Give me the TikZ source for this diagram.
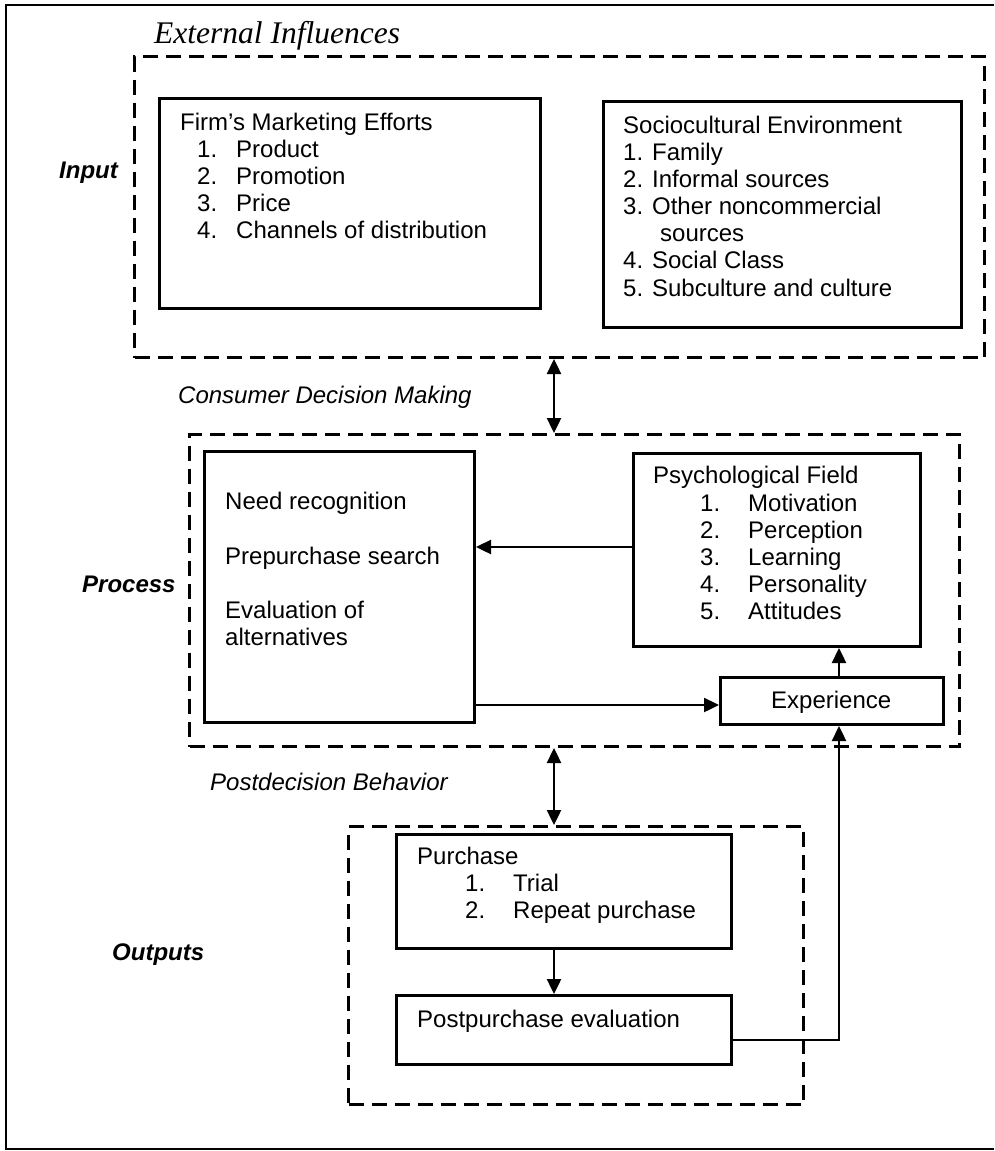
\documentclass[tikz,border=0pt]{standalone}
\usepackage{fontspec}
\setmainfont{Liberation Sans}
\newfontfamily\titlefont{Liberation Serif}
\usetikzlibrary{arrows.meta}
\tikzset{
  x=1pt, y=-1pt,
  solidbox/.style={draw, line width=3pt, inner sep=0pt, anchor=north west},
  dashbox/.style={draw, line width=3pt, inner sep=0pt, anchor=north west, dash pattern=on 15pt off 8pt},
  txt/.style={anchor=base west, inner sep=0pt, font=\fontsize{24}{27}\selectfont},
  itlabel/.style={txt, font=\fontsize{24}{27}\selectfont\itshape},
  bilabel/.style={txt, font=\fontsize{24}{27}\selectfont\bfseries\itshape},
  conn/.style={line width=2.4pt, -{Triangle[length=15pt,width=14pt]}},
  bconn/.style={line width=2.4pt, {Triangle[length=15pt,width=14pt]}-{Triangle[length=15pt,width=14pt]}},
}
\begin{document}
\begin{tikzpicture}
\useasboundingbox (0,0) rectangle (994,1151);
% outer frame (right side cut off)
\draw[line width=2.6pt] (994,5) -- (6,5) -- (6,1149) -- (994,1149);

% dashed group boxes
\node[dashbox, minimum width=850pt, minimum height=301pt] (inp) at (133,55) {};
\node[dashbox, minimum width=770pt, minimum height=312pt] (proc) at (188,433) {};
\node[dashbox, minimum width=455pt, minimum height=278pt] (outp) at (347,825) {};

% solid boxes
\node[solidbox, minimum width=381pt, minimum height=210pt] (firm) at (158,97) {};
\node[solidbox, minimum width=358pt, minimum height=226pt] (socio) at (602,100) {};
\node[solidbox, minimum width=270pt, minimum height=271pt] (dec) at (203,450) {};
\node[solidbox, minimum width=287pt, minimum height=193pt] (psy) at (632,452) {};
\node[solidbox, minimum width=223pt, minimum height=47pt] (exp) at (719,676) {};
\node[solidbox, minimum width=335pt, minimum height=114pt] (pur) at (395,833) {};
\node[solidbox, minimum width=335pt, minimum height=69pt] (post) at (395,994) {};

% labels
\node[anchor=base west, inner sep=0pt, font=\titlefont\fontsize{31.5}{34}\selectfont\itshape] (ext) at (154,43) {External Influences};
\node[bilabel] (linput) at (59,178) {Input};
\node[bilabel] (lprocess) at (82,592) {Process};
\node[bilabel] (loutputs) at (112,960) {Outputs};
\node[itlabel] (lcdm) at (178,403) {Consumer Decision Making};
\node[itlabel] (lpdb) at (210,790) {Postdecision Behavior};

% firm text
\node[txt] (firmT) at (180,130) {Firm’s Marketing Efforts};
\foreach \n/\t [count=\i] in {1./Product,2./Promotion,3./Price,4./Channels of distribution}{
  \node[txt] (firmN\i) at (197,130+27*\i) {\n};
  \node[txt] (firmI\i) at (236,130+27*\i) {\t};
}

% socio text
\node[txt] (socT) at (623,133) {Sociocultural Environment};
\node[txt] (soc1) at (623,160) {1. Family};
\node[txt] (soc2) at (623,187) {2. Informal sources};
\node[txt] (soc3) at (623,214) {3. Other noncommercial};
\node[txt] (soc3b) at (660,241) {sources};
\node[txt] (soc4) at (623,268) {4. Social Class};
\node[txt] (soc5) at (623,296) {5. Subculture and culture};

% decision text
\node[txt] (d1) at (225,509) {Need recognition};
\node[txt] (d2) at (225,564) {Prepurchase search};
\node[txt] (d3) at (225,618) {Evaluation of};
\node[txt] (d4) at (225,645) {alternatives};

% psych text
\node[txt] (psyT) at (653,483) {Psychological Field};
\foreach \n/\t [count=\i] in {1./Motivation,2./Perception,3./Learning,4./Personality,5./Attitudes}{
  \node[txt] (psyN\i) at (700,484+27*\i) {\n};
  \node[txt] (psyI\i) at (748,484+27*\i) {\t};
}

% experience
\node[txt] (expT) at (771,708) {Experience};

% purchase
\node[txt] (purT) at (417,864) {Purchase};
\node[txt] (purN1) at (465,891) {1.};
\node[txt] (purI1) at (513,891) {Trial};
\node[txt] (purN2) at (465,918) {2.};
\node[txt] (purI2) at (513,918) {Repeat purchase};
\node[txt] (postT) at (417,1027) {Postpurchase evaluation};

% connectors
\coordinate (ax) at (554,0);
\coordinate (ay) at (0,547);
\coordinate (by) at (0,705);
\coordinate (cx) at (839,0);
\coordinate (fy) at (0,1040);
\draw[bconn] (inp.south -| ax) -- (proc.north -| ax);
\draw[bconn] (proc.south -| ax) -- (outp.north -| ax);
\draw[conn] (psy.west |- ay) -- (dec.east |- ay);
\draw[conn] (dec.east |- by) -- (exp.west |- by);
\draw[conn] (exp.north -| cx) -- (psy.south -| cx);
\draw[conn] (pur.south -| ax) -- (post.north -| ax);
\draw[conn] (post.east |- fy) -| (exp.south -| cx);
\end{tikzpicture}
\end{document}
